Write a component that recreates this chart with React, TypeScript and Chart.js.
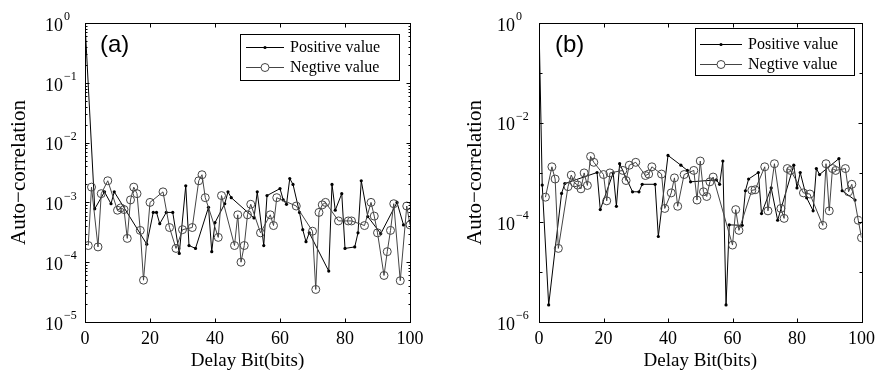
import React, { useEffect, useRef } from "react";
import { Chart, registerables } from "chart.js";

Chart.register(...registerables);

// ---------- data ----------
const X_TICKS = [0, 20, 40, 60, 80, 100];
const A_Y_EXPONENTS = [0, -1, -2, -3, -4, -5];
const B_Y_EXPONENTS = [0, -2, -4, -6];

// Panel (a)
const A_POS_X = [0, 3, 6, 8, 9, 19, 21, 22, 23, 25, 27, 29, 31, 32, 34, 38, 39, 40, 43, 44, 45, 52, 53, 55, 56, 60, 61, 62, 63, 64, 66, 67, 68, 69, 75, 76, 77, 79, 80, 83, 84, 85, 87, 91, 96, 98];
const A_POS_Y = [1, 7.8e-4, 1.5e-3, 9.5e-4, 1.5e-3, 2.0e-4, 6.8e-4, 6.8e-4, 4.4e-4, 6.8e-4, 6.8e-4, 1.4e-4, 1.9e-3, 1.9e-4, 1.7e-4, 8.3e-4, 1.5e-4, 4.6e-4, 9.5e-4, 1.5e-3, 1.2e-3, 5.5e-4, 1.5e-3, 1.9e-4, 1.3e-3, 1.7e-3, 1.1e-3, 9.3e-4, 2.5e-3, 2.0e-3, 6.8e-4, 3.5e-4, 2.2e-4, 3.1e-4, 7.1e-5, 2.0e-3, 7.4e-4, 1.4e-3, 1.7e-4, 1.8e-4, 3.1e-4, 2.3e-3, 5.8e-4, 3.0e-4, 1.0e-3, 4.2e-4];
const A_NEG_X = [1, 2, 4, 5, 7, 10, 11, 12, 13, 14, 15, 16, 17, 18, 20, 24, 26, 28, 30, 33, 35, 36, 37, 41, 42, 46, 47, 48, 49, 50, 51, 54, 57, 58, 59, 65, 70, 71, 72, 73, 74, 78, 81, 82, 86, 88, 89, 90, 92, 93, 94, 95, 97, 99, 100];
const A_NEG_Y = [1.9e-4, 1.8e-3, 1.8e-4, 1.4e-3, 2.3e-3, 7.4e-4, 8.1e-4, 7.6e-4, 2.5e-4, 1.1e-3, 1.8e-3, 1.4e-3, 3.4e-4, 5.0e-5, 1.0e-3, 1.5e-3, 3.8e-4, 1.7e-4, 3.5e-4, 3.8e-4, 2.3e-3, 2.9e-3, 1.2e-3, 2.6e-4, 1.3e-3, 1.9e-4, 6.2e-4, 1.0e-4, 1.9e-4, 6.2e-4, 9.3e-4, 3.1e-4, 6.2e-4, 4.1e-4, 1.2e-3, 8.7e-4, 3.3e-4, 3.5e-5, 6.8e-4, 9.1e-4, 1.0e-3, 4.9e-4, 4.9e-4, 4.9e-4, 4.1e-4, 1.0e-3, 5.9e-4, 3.1e-4, 6.0e-5, 1.5e-4, 3.4e-4, 9.5e-4, 4.9e-5, 8.7e-4, 4.2e-4];

// Panel (b)
const B_POS_X = [0, 1, 3, 7, 8, 18, 19, 23, 24, 25, 29, 31, 32, 36, 37, 40, 44, 46, 47, 55, 56, 57, 58, 59, 63, 64, 65, 68, 69, 72, 74, 79, 80, 81, 83, 85, 86, 87, 93, 94, 98];
const B_POS_Y = [1, 5.6e-4, 2.2e-6, 3.8e-4, 6.0e-4, 1.0e-3, 1.8e-4, 9.8e-4, 2.1e-4, 1.5e-3, 4.1e-4, 4.1e-4, 5.8e-4, 5.8e-4, 5.2e-5, 2.2e-3, 1.4e-3, 1.1e-3, 6.5e-4, 7.1e-4, 5.8e-4, 1.7e-3, 2.2e-6, 8.9e-5, 8.7e-5, 4.3e-4, 7.4e-4, 1.0e-3, 1.5e-4, 4.9e-4, 1.1e-4, 1.4e-3, 4.9e-4, 1.0e-3, 3.1e-4, 1.7e-4, 1.2e-3, 9.1e-4, 1.9e-3, 4.3e-4, 2.8e-4];
const B_NEG_X = [2, 4, 5, 6, 9, 10, 11, 12, 13, 14, 15, 16, 17, 20, 21, 22, 26, 27, 28, 30, 33, 34, 35, 38, 39, 41, 42, 43, 45, 48, 49, 50, 51, 52, 53, 54, 60, 61, 62, 66, 67, 70, 71, 73, 75, 76, 77, 78, 82, 84, 88, 89, 90, 91, 92, 95, 96, 97, 99, 100];
const B_NEG_Y = [3.2e-4, 1.3e-3, 7.4e-4, 3.0e-5, 5.2e-4, 8.9e-4, 6.2e-4, 5.6e-4, 4.7e-4, 9.8e-4, 5.5e-4, 2.1e-3, 1.6e-3, 9.1e-4, 2.7e-4, 9.8e-4, 1.1e-3, 6.9e-4, 1.4e-3, 1.6e-3, 8.7e-4, 9.3e-4, 1.3e-3, 9.3e-4, 1.9e-4, 3.9e-4, 7.8e-4, 2.1e-4, 9.1e-4, 1.1e-3, 2.8e-4, 1.7e-3, 4.1e-4, 3.3e-4, 6.5e-4, 8.1e-4, 3.5e-5, 1.8e-4, 6.9e-5, 4.4e-4, 4.5e-4, 1.3e-3, 1.7e-4, 1.5e-3, 1.9e-4, 1.2e-4, 1.2e-3, 1.1e-3, 3.9e-4, 3.7e-4, 8.7e-5, 1.5e-3, 1.7e-4, 1.2e-3, 1.1e-3, 1.2e-3, 4.1e-4, 5.8e-4, 1.1e-4, 4.9e-5];

const LEGEND_LABELS = ["Positive value", "Negtive value"];
const X_TITLE = "Delay Bit(bits)";
const Y_TITLE = "Auto\u2212correlation";

const SERIF = '"Liberation Serif", "Times New Roman", serif';
const SANS = '"Liberation Sans", Arial, sans-serif';
const NEG_COLOR = "#444";

type PanelCfg = {
  label: string;
  posX: number[];
  posY: number[];
  negX: number[];
  negY: number[];
  minExp: number;
  labelExps: number[];
  minorSubTicks: boolean;
  canvasWidth: number;
  yAxisWidth: number;
  padRight: number;
  yTitlePad: number;
  labelX: number; // left x of "10" labels (canvas coords)
  panelLabelX: number;
  legend: { left: number; top: number; right: number; bottom: number; row1: number; row2: number; s1: number; s2: number; tx: number };
};

function zip(xs: number[], ys: number[]) {
  return xs.map((x, i) => ({ x, y: ys[i] }));
}

function decoPlugin(cfg: PanelCfg) {
  return {
    id: "deco",
    afterDraw(chart: any) {
      const ctx: CanvasRenderingContext2D = chart.ctx;
      const { left, right, top, bottom } = chart.chartArea;
      const xs = chart.scales.x;
      const ys = chart.scales.y;
      const L = Math.round(left) + 0.5;
      const R = Math.round(right) + 0.5;
      const T = Math.round(top) + 0.5;
      const B = Math.round(bottom) + 0.5;
      ctx.save();
      ctx.strokeStyle = "#000";
      ctx.lineWidth = 1;
      const seg = (x1: number, y1: number, x2: number, y2: number) => {
        ctx.beginPath();
        ctx.moveTo(x1, y1);
        ctx.lineTo(x2, y2);
        ctx.stroke();
      };
      // x ticks (inward, bottom & top)
      for (const v of X_TICKS) {
        const px = Math.round(xs.getPixelForValue(v)) + 0.5;
        seg(px, B, px, B - 4);
        seg(px, T, px, T + 4);
      }
      // y ticks
      for (let e = cfg.minExp; e <= 0; e++) {
        const py = Math.round(ys.getPixelForValue(Math.pow(10, e))) + 0.5;
        const len = cfg.labelExps.includes(e) ? 4 : 3;
        seg(L, py, L + len, py);
        seg(R, py, R - len, py);
        if (cfg.minorSubTicks && e < 0) {
          for (let m = 2; m <= 9; m++) {
            const pm = Math.round(ys.getPixelForValue(m * Math.pow(10, e))) + 0.5;
            seg(L, pm, L + 2, pm);
            seg(R, pm, R - 2, pm);
          }
        }
      }
      // border
      ctx.strokeRect(L, T, R - L, B - T);

      // y tick labels with superscripts
      ctx.fillStyle = "#000";
      ctx.textBaseline = "middle";
      ctx.textAlign = "left";
      for (const e of cfg.labelExps) {
        const py = ys.getPixelForValue(Math.pow(10, e));
        ctx.font = `18px ${SERIF}`;
        ctx.fillText("10", cfg.labelX, py + 3);
        const w = ctx.measureText("10").width;
        ctx.font = `12px ${SERIF}`;
        ctx.fillText(e === 0 ? "0" : "\u2212" + Math.abs(e), cfg.labelX + w + 1, py - 6);
      }

      // panel label
      ctx.font = `24px ${SANS}`;
      ctx.fillText(cfg.label, cfg.panelLabelX, 45);

      // legend
      const lg = cfg.legend;
      ctx.fillStyle = "#fff";
      ctx.fillRect(lg.left, lg.top, lg.right - lg.left, lg.bottom - lg.top);
      ctx.strokeStyle = "#000";
      ctx.strokeRect(lg.left + 0.5, lg.top + 0.5, lg.right - lg.left, lg.bottom - lg.top);
      // row 1
      ctx.strokeStyle = "#000";
      seg(lg.s1, lg.row1 + 0.5, lg.s2, lg.row1 + 0.5);
      ctx.fillStyle = "#000";
      ctx.beginPath();
      ctx.arc((lg.s1 + lg.s2) / 2, lg.row1 + 0.5, 1.6, 0, Math.PI * 2);
      ctx.fill();
      // row 2
      ctx.strokeStyle = NEG_COLOR;
      seg(lg.s1, lg.row2 + 0.5, lg.s2, lg.row2 + 0.5);
      ctx.fillStyle = "#fff";
      ctx.beginPath();
      ctx.arc((lg.s1 + lg.s2) / 2, lg.row2 + 0.5, 4, 0, Math.PI * 2);
      ctx.fill();
      ctx.stroke();
      ctx.fillStyle = "#000";
      ctx.font = `16px ${SERIF}`;
      ctx.fillText(LEGEND_LABELS[0], lg.tx, lg.row1 + 1);
      ctx.fillText(LEGEND_LABELS[1], lg.tx, lg.row2 + 1);
      ctx.restore();
    },
  };
}

function Panel({ cfg }: { cfg: PanelCfg }) {
  const ref = useRef<HTMLCanvasElement | null>(null);
  useEffect(() => {
    if (!ref.current) return;
    const chart = new Chart(ref.current, {
      type: "line",
      data: {
        datasets: [
          {
            label: LEGEND_LABELS[1],
            data: zip(cfg.negX, cfg.negY),
            borderColor: NEG_COLOR,
            borderWidth: 1,
            pointRadius: 4,
            pointBorderWidth: 1,
            pointBorderColor: NEG_COLOR,
            pointBackgroundColor: "rgba(0,0,0,0)",
            tension: 0,
          },
          {
            label: LEGEND_LABELS[0],
            data: zip(cfg.posX, cfg.posY),
            borderColor: "#000",
            borderWidth: 1,
            pointRadius: 1.6,
            pointBorderWidth: 0,
            pointBackgroundColor: "#000",
            tension: 0,
          },
        ],
      },
      options: {
        animation: false,
        responsive: false,
        devicePixelRatio: 1,
        layout: { padding: { left: 0, right: cfg.padRight, top: 23, bottom: 0 } },
        plugins: { legend: { display: false }, tooltip: { enabled: false } },
        scales: {
          x: {
            type: "linear",
            min: 0,
            max: 100,
            grid: { display: false, drawTicks: false },
            border: { display: false },
            ticks: {
              stepSize: 20,
              padding: 6,
              color: "#000",
              font: { family: SERIF, size: 18 },
              maxRotation: 0,
            },
            title: {
              display: true,
              text: X_TITLE,
              color: "#000",
              font: { family: SERIF, size: 19 },
              padding: { top: 0, bottom: 2 },
            },
            afterFit: (s: any) => {
              s.height = 52;
            },
          },
          y: {
            type: "logarithmic",
            min: Math.pow(10, cfg.minExp),
            max: 1,
            grid: { display: false, drawTicks: false },
            border: { display: false },
            ticks: { display: false },
            title: {
              display: true,
              text: Y_TITLE,
              color: "#000",
              font: { family: SERIF, size: 21 },
              padding: { top: cfg.yTitlePad, bottom: 0 },
            },
            afterFit: (s: any) => {
              s.width = cfg.yAxisWidth;
            },
          },
        },
      } as any,
      plugins: [decoPlugin(cfg)],
    });
    return () => chart.destroy();
  }, [cfg]);
  return <canvas ref={ref} width={cfg.canvasWidth} height={374} style={{ display: "block" }} />;
}

const PANEL_A: PanelCfg = {
  label: "(a)",
  posX: A_POS_X,
  posY: A_POS_Y,
  negX: A_NEG_X,
  negY: A_NEG_Y,
  minExp: -5,
  labelExps: A_Y_EXPONENTS,
  minorSubTicks: true,
  canvasWidth: 440,
  yAxisWidth: 85,
  padRight: 30,
  yTitlePad: 7,
  labelX: 45,
  panelLabelX: 100,
  legend: { left: 240, top: 34, right: 399, bottom: 80, row1: 47, row2: 67, s1: 246, s2: 284, tx: 290 },
};

const PANEL_B: PanelCfg = {
  label: "(b)",
  posX: B_POS_X,
  posY: B_POS_Y,
  negX: B_NEG_X,
  negY: B_NEG_Y,
  minExp: -6,
  labelExps: B_Y_EXPONENTS,
  minorSubTicks: false,
  canvasWidth: 441,
  yAxisWidth: 99,
  padRight: 17,
  yTitlePad: 23,
  labelX: 57,
  panelLabelX: 115,
  legend: { left: 255, top: 28, right: 414, bottom: 75, row1: 44, row2: 64, s1: 260, s2: 302, tx: 308 },
};

export default function App() {
  return (
    <div style={{ position: "absolute", left: 0, top: 0, width: 881, height: 374, background: "#fff" }}>
      <div style={{ position: "absolute", left: 0, top: 0 }}>
        <Panel cfg={PANEL_A} />
      </div>
      <div style={{ position: "absolute", left: 440, top: 0 }}>
        <Panel cfg={PANEL_B} />
      </div>
    </div>
  );
}
